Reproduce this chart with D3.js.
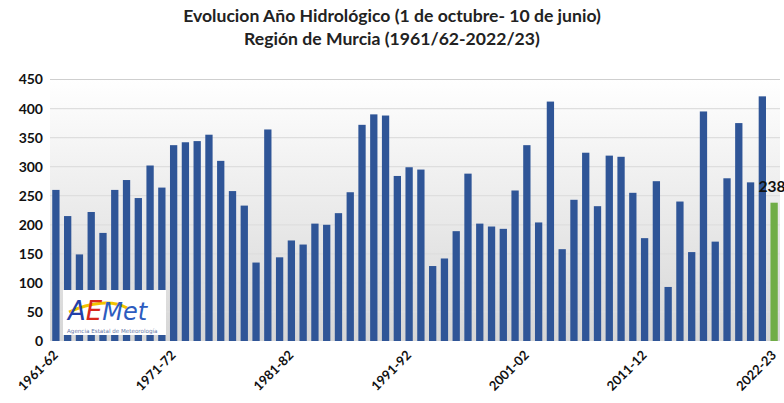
<!DOCTYPE html>
<html><head><meta charset="utf-8">
<script src="https://cdn.jsdelivr.net/npm/d3@7"></script>
<style>body{margin:0;background:#fff;} svg{display:block;}</style>
</head><body>
<svg id="c" width="784" height="403"></svg>
<script>
const seasons = [];
for (let y = 1961; y <= 2022; y++) seasons.push(y + "-" + String((y + 1) % 100).padStart(2, "0"));
const values = [260,215,149,222,186,260,277,246,302,264,
  337,342,344,355,310,258,233,135,364,144,
  173,166,202,200,220,256,372,390,388,284,
  299,295,129,142,189,288,202,197,193,259,
  337,204,412,158,243,324,232,319,317,255,
  177,275,93,240,153,395,171,280,375,273,
  421,238];
const tickLabels = ["1961-62","1971-72","1981-82","1991-92","2001-02","2011-12","2022-23"];
const yTicks = [0,50,100,150,200,250,300,350,400,450];
const titleLines = ["Evolucion Año Hidrológico (1 de octubre- 10 de junio)","Región de Murcia (1961/62-2022/23)"];

const svg = d3.select("#c");
const x = d3.scaleBand().domain(seasons).range([50, 780]).paddingInner(0.38).paddingOuter(0.19);
const y = d3.scaleLinear().domain([0,450]).range([341, 79.5]);

const defs = svg.append("defs");
const g = defs.append("linearGradient").attr("id","bg").attr("x1",0).attr("x2",0).attr("y1",0).attr("y2",1);
g.append("stop").attr("offset","0%").attr("stop-color","#ffffff");
g.append("stop").attr("offset","100%").attr("stop-color","#d6d6d6");

svg.append("rect").attr("x",50).attr("y",y(450)).attr("width",730).attr("height",y(0)-y(450)).attr("fill","url(#bg)");

// grid
svg.append("g").selectAll("line").data(yTicks.filter(d=>d>0)).join("line")
  .attr("x1",50).attr("x2",780).attr("y1",d=>y(d)).attr("y2",d=>y(d))
  .attr("stroke",d=>d===450?"#cfcfcf":"#dedede").attr("stroke-width",1.2);

// y axis labels
const yAxis = d3.axisLeft(y).tickValues(yTicks).tickSize(0).tickPadding(0);
const ya = svg.append("g").attr("transform","translate(43,0)").call(yAxis);
ya.select(".domain").remove();
ya.selectAll("text").attr("font-family","Lato, 'Open Sans', sans-serif").attr("font-weight",700)
  .attr("font-size",14).attr("fill","#111");

// bars
svg.append("g").selectAll("rect").data(values).join("rect")
  .attr("x",(d,i)=>x(seasons[i])).attr("width",x.bandwidth())
  .attr("y",d=>y(d)).attr("height",d=>y(0)-y(d))
  .attr("fill",(d,i)=>i===values.length-1?"#70AD47":"#2F5597");

// last value label
const last = values.length-1;
svg.append("text").attr("x",x(seasons[last])-12).attr("y",y(values[last])-11)
  .attr("font-family","Lato, sans-serif").attr("font-weight",700).attr("font-size",15.5).attr("fill","#111")
  .text(values[last]);

// x labels
const xAxis = d3.axisBottom(x).tickValues(tickLabels).tickSize(0).tickPadding(0);
const xa = svg.append("g").call(xAxis);
xa.select(".domain").remove();
xa.selectAll(".tick").attr("transform",d=>`translate(${x(d)+x.bandwidth()/2+3},356)`);
xa.selectAll("text").attr("y",0).attr("dy",0).attr("transform","rotate(-45)")
  .attr("text-anchor","end").attr("font-family","Lato, sans-serif").attr("font-weight",700)
  .attr("font-size",13).attr("fill","#111");

// title
svg.append("g").selectAll("text").data(titleLines).join("text")
  .attr("x",392).attr("y",(d,i)=>22+i*23).attr("text-anchor","middle")
  .attr("font-family","Lato, sans-serif").attr("font-weight",700).attr("font-size",17.6).attr("fill","#222")
  .text(d=>d);

// AEMET logo
const lg = svg.append("g").attr("transform","translate(63,290)");
lg.append("rect").attr("width",103).attr("height",45).attr("fill","#fff");
lg.append("path").attr("d","M6,22 C28,12 50,10 64,18").attr("fill","none").attr("stroke","#f2c300").attr("stroke-width",3);
const lt = lg.append("text").attr("x",5).attr("y",30).attr("font-family","'DejaVu Sans', sans-serif")
  .attr("font-style","italic").attr("font-size",26);
lt.append("tspan").attr("fill","#2340a8").text("A");
lt.append("tspan").attr("fill","#d8261c").text("E");
lt.append("tspan").attr("fill","#2d5cc0").attr("font-size",24).text("Met");
lg.append("text").attr("x",4).attr("y",43).attr("font-family","'DejaVu Sans', sans-serif")
  .attr("font-size",5.6).attr("fill","#6a7aa8").text("Agencia Estatal de Meteorología");
</script>
</body></html>
